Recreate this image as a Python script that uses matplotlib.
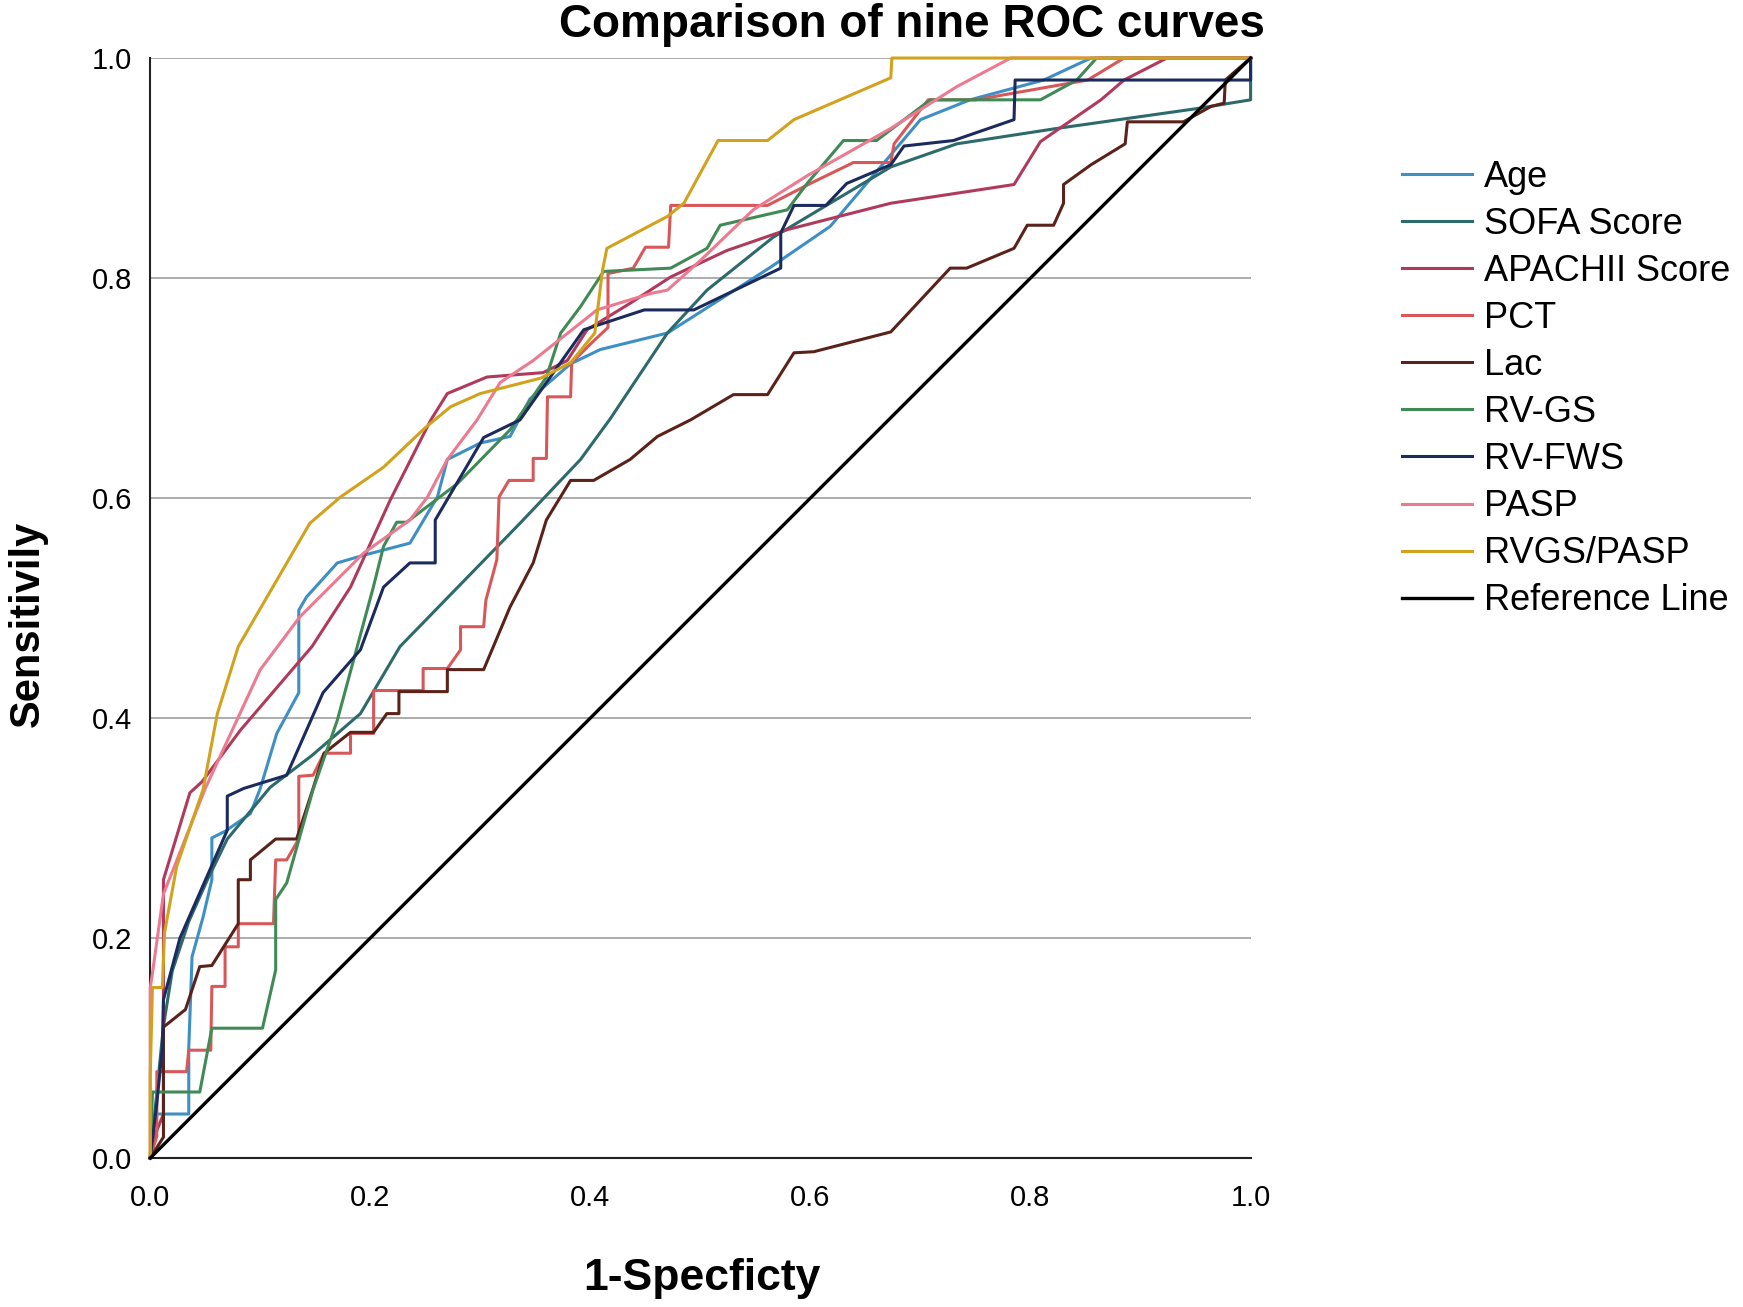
import numpy as np
import matplotlib.pyplot as plt

# ROC curve points (1-specificity, sensitivity)
age_x = [0, 0.004, 0.035, 0.035, 0.038, 0.048, 0.056, 0.056, 0.068, 0.091, 0.100, 0.115, 0.135, 0.135, 0.142, 0.170, 0.194, 0.236, 0.261, 0.270, 0.300, 0.327, 0.345, 0.382, 0.409, 0.470, 0.564, 0.618, 0.700, 0.745, 0.812, 0.842, 0.855, 1.0]
age_y = [0, 0.040, 0.040, 0.100, 0.183, 0.219, 0.253, 0.291, 0.297, 0.313, 0.336, 0.386, 0.423, 0.498, 0.510, 0.541, 0.548, 0.559, 0.601, 0.635, 0.650, 0.656, 0.690, 0.722, 0.735, 0.750, 0.810, 0.847, 0.944, 0.962, 0.980, 0.994, 1.0, 1.0]

sofa_x = [0, 0.006, 0.012, 0.020, 0.035, 0.052, 0.070, 0.109, 0.147, 0.191, 0.227, 0.336, 0.391, 0.418, 0.470, 0.506, 0.566, 0.673, 0.733, 0.824, 0.951, 1.0, 1.0]
sofa_y = [0, 0.060, 0.120, 0.170, 0.215, 0.253, 0.290, 0.337, 0.366, 0.404, 0.465, 0.577, 0.635, 0.672, 0.750, 0.789, 0.837, 0.901, 0.922, 0.936, 0.954, 0.962, 1.0]

apache_x = [0, 0.004, 0.012, 0.012, 0.036, 0.047, 0.082, 0.147, 0.182, 0.218, 0.255, 0.270, 0.306, 0.357, 0.379, 0.397, 0.436, 0.473, 0.524, 0.579, 0.673, 0.785, 0.809, 0.864, 0.885, 0.924, 1.0]
apache_y = [0, 0.020, 0.040, 0.253, 0.332, 0.342, 0.389, 0.465, 0.519, 0.598, 0.671, 0.695, 0.710, 0.714, 0.725, 0.753, 0.777, 0.801, 0.825, 0.844, 0.868, 0.885, 0.924, 0.962, 0.980, 1.0, 1.0]

pct_x = [0, 0.006, 0.006, 0.033, 0.035, 0.055, 0.056, 0.068, 0.068, 0.080, 0.080, 0.112, 0.114, 0.124, 0.135, 0.135, 0.148, 0.158, 0.182, 0.182, 0.203, 0.203, 0.248, 0.248, 0.270, 0.282, 0.282, 0.303, 0.305, 0.315, 0.317, 0.326, 0.348, 0.348, 0.360, 0.361, 0.382, 0.383, 0.400, 0.416, 0.416, 0.439, 0.450, 0.471, 0.473, 0.561, 0.600, 0.639, 0.673, 0.676, 0.707, 0.750, 0.852, 0.885, 1.0]
pct_y = [0, 0.020, 0.0785, 0.0785, 0.098, 0.098, 0.156, 0.156, 0.192, 0.192, 0.213, 0.213, 0.271, 0.271, 0.290, 0.347, 0.348, 0.368, 0.368, 0.386, 0.386, 0.425, 0.425, 0.445, 0.445, 0.462, 0.483, 0.483, 0.507, 0.544, 0.601, 0.616, 0.616, 0.636, 0.636, 0.692, 0.692, 0.723, 0.740, 0.755, 0.804, 0.809, 0.828, 0.828, 0.866, 0.866, 0.886, 0.905, 0.905, 0.922, 0.962, 0.962, 0.980, 1.0, 1.0]

lac_x = [0, 0.012, 0.012, 0.032, 0.045, 0.056, 0.080, 0.080, 0.091, 0.091, 0.114, 0.133, 0.148, 0.158, 0.182, 0.203, 0.215, 0.226, 0.226, 0.270, 0.270, 0.303, 0.327, 0.348, 0.360, 0.382, 0.403, 0.436, 0.461, 0.491, 0.530, 0.561, 0.585, 0.603, 0.673, 0.727, 0.742, 0.785, 0.797, 0.821, 0.830, 0.830, 0.855, 0.886, 0.888, 0.939, 0.964, 0.976, 0.977, 1.0]
lac_y = [0, 0.019, 0.119, 0.135, 0.174, 0.175, 0.213, 0.253, 0.253, 0.271, 0.290, 0.290, 0.336, 0.368, 0.387, 0.387, 0.404, 0.404, 0.424, 0.424, 0.444, 0.444, 0.501, 0.541, 0.580, 0.616, 0.616, 0.635, 0.656, 0.671, 0.694, 0.694, 0.732, 0.733, 0.751, 0.809, 0.809, 0.827, 0.848, 0.848, 0.868, 0.885, 0.903, 0.922, 0.942, 0.942, 0.956, 0.959, 0.980, 1.0]

rvgs_x = [0, 0.002, 0.045, 0.056, 0.102, 0.114, 0.114, 0.124, 0.148, 0.170, 0.203, 0.212, 0.224, 0.233, 0.279, 0.327, 0.360, 0.373, 0.391, 0.412, 0.473, 0.506, 0.518, 0.579, 0.597, 0.630, 0.660, 0.709, 0.809, 0.842, 0.860, 1.0]
rvgs_y = [0, 0.060, 0.060, 0.118, 0.118, 0.171, 0.235, 0.250, 0.335, 0.398, 0.520, 0.556, 0.578, 0.578, 0.613, 0.662, 0.710, 0.750, 0.774, 0.806, 0.809, 0.827, 0.848, 0.862, 0.886, 0.925, 0.925, 0.962, 0.962, 0.980, 1.0, 1.0]

rvfws_x = [0, 0.006, 0.011, 0.012, 0.027, 0.070, 0.070, 0.085, 0.124, 0.157, 0.191, 0.212, 0.236, 0.259, 0.259, 0.303, 0.336, 0.394, 0.449, 0.494, 0.573, 0.573, 0.585, 0.614, 0.633, 0.673, 0.685, 0.730, 0.785, 0.786, 1.0, 1.0]
rvfws_y = [0, 0.050, 0.100, 0.144, 0.200, 0.298, 0.329, 0.336, 0.348, 0.423, 0.462, 0.519, 0.541, 0.541, 0.580, 0.655, 0.671, 0.753, 0.771, 0.771, 0.809, 0.841, 0.866, 0.866, 0.886, 0.903, 0.920, 0.925, 0.944, 0.980, 0.980, 1.0]

pasp_x = [0, 0.0, 0.002, 0.012, 0.050, 0.100, 0.136, 0.194, 0.236, 0.252, 0.270, 0.297, 0.318, 0.348, 0.406, 0.455, 0.470, 0.500, 0.548, 0.597, 0.673, 0.733, 0.782, 1.0]
pasp_y = [0, 0.155, 0.168, 0.240, 0.336, 0.444, 0.492, 0.550, 0.580, 0.601, 0.635, 0.671, 0.705, 0.725, 0.771, 0.786, 0.789, 0.816, 0.862, 0.893, 0.936, 0.974, 1.0, 1.0]

rvgs_pasp_x = [0, 0.0, 0.002, 0.011, 0.013, 0.024, 0.048, 0.061, 0.080, 0.145, 0.173, 0.212, 0.250, 0.273, 0.300, 0.355, 0.382, 0.404, 0.411, 0.415, 0.470, 0.485, 0.516, 0.561, 0.585, 0.673, 0.674, 1.0]
rvgs_pasp_y = [0, 0.075, 0.155, 0.155, 0.205, 0.265, 0.335, 0.404, 0.465, 0.577, 0.601, 0.628, 0.664, 0.683, 0.695, 0.709, 0.723, 0.750, 0.807, 0.827, 0.856, 0.868, 0.925, 0.925, 0.944, 0.982, 1.0, 1.0]

ref_x = [0, 1]
ref_y = [0, 1]

series = [
    ("Age", age_x, age_y, "#3d8fc4"),
    ("SOFA Score", sofa_x, sofa_y, "#2c6a6c"),
    ("APACHII Score", apache_x, apache_y, "#b03a5b"),
    ("PCT", pct_x, pct_y, "#d8585a"),
    ("Lac", lac_x, lac_y, "#5a2219"),
    ("RV-GS", rvgs_x, rvgs_y, "#3f8a55"),
    ("RV-FWS", rvfws_x, rvfws_y, "#1c2b5e"),
    ("PASP", pasp_x, pasp_y, "#ec7a90"),
    ("RVGS/PASP", rvgs_pasp_x, rvgs_pasp_y, "#d2a21e"),
]

narrow = ['Liberation Sans Narrow', 'Liberation Sans', 'DejaVu Sans']
plt.rcParams['font.family'] = ['Liberation Sans', 'DejaVu Sans']

fig = plt.figure(figsize=(17.43, 13.07), dpi=100)
ax = fig.add_axes([0.0862, 0.114, 0.6313, 0.8416])

for name, xs, ys, col in series:
    ax.plot(xs, ys, color=col, lw=2.2, label=name, clip_on=False, zorder=3)
ax.plot(ref_x, ref_y, color="black", lw=2.4, label="Reference Line", clip_on=False, zorder=4)

ax.set_xlim(0, 1)
ax.set_ylim(0, 1)
ax.set_xticks(np.arange(0, 1.01, 0.2))
ax.set_yticks(np.arange(0, 1.01, 0.2))
ax.set_xticklabels(["0.0", "0.2", "0.4", "0.6", "0.8", "1.0"])
ax.set_yticklabels(["0.0", "0.2", "0.4", "0.6", "0.8", "1.0"])
ax.tick_params(axis='both', length=0, labelsize=21)
ax.tick_params(axis='x', pad=19)
ax.tick_params(axis='y', pad=13)

ax.yaxis.grid(True, color="#a6a6a6", lw=1.3)
ax.set_axisbelow(True)
for s in ["top", "right"]:
    ax.spines[s].set_visible(False)
for s in ["left", "bottom"]:
    ax.spines[s].set_color("#222222")
    ax.spines[s].set_linewidth(1.5)

fig.text(0.523, 0.981, "Comparison of nine ROC curves", ha="center", va="center",
         fontsize=33, fontweight="bold", family=narrow)
fig.text(0.016, 0.523, "Sensitivily", ha="center", va="center", rotation=90,
         fontsize=30, fontweight="bold", family=narrow)
fig.text(0.4025, 0.022, "1-Specficty", ha="center", va="center",
         fontsize=32, fontweight="bold", family=narrow)

fig.legend(loc="upper left", bbox_to_anchor=(0.796, 0.889), frameon=False,
           fontsize=26, handlelength=1.95, handletextpad=0.33, labelspacing=0.335,
           borderaxespad=0)

fig.savefig("out.png", dpi=100)
